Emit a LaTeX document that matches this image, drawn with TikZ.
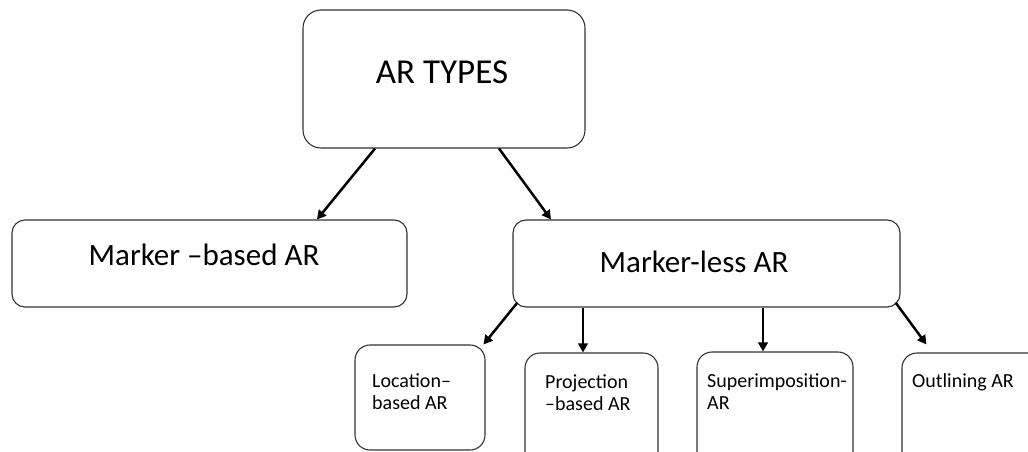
\documentclass[tikz,border=0pt]{standalone}
\usepackage{fontspec}
\setmainfont{Carlito}
\usetikzlibrary{arrows.meta}
\begin{document}
\begin{tikzpicture}[x=1pt,y=-1pt,
  box/.style={draw=black!80, line width=1.1pt, inner sep=0pt, rounded corners=#1},
  box/.default=13pt,
  arr/.style={draw=black, line width=2.5pt, -{Triangle[length=9pt,width=9.5pt]}},
  big/.style={font=\fontsize{31}{36}\selectfont, anchor=base, inner sep=0pt},
  small/.style={font=\fontsize{20}{22.5}\selectfont, align=left, anchor=base west, inner sep=0pt}]
\useasboundingbox (0,0) rectangle (1028,452);
\clip (0,0) rectangle (1028,452);
% boxes
\node[box=18pt, minimum width=282pt, minimum height=138pt] (types) at (444,79) {};
\node[box, minimum width=395pt, minimum height=87pt] (mb) at (209.5,263.5) {};
\node[box, minimum width=387pt, minimum height=87pt] (ml) at (706.5,263.5) {};
\node[box=15pt, minimum width=130pt, minimum height=105pt] (loc) at (420,397.5) {};
\node[box=15pt, minimum width=133pt, minimum height=125pt] (proj) at (591.5,415.5) {};
\node[box=15pt, minimum width=156pt, minimum height=125pt] (sup) at (775,414.5) {};
\node[box=15pt, minimum width=150pt, minimum height=125pt] (outl) at (977,415.5) {};
% texts
\node[big, font=\fontsize{35}{40}\selectfont] (ttypes) at (442,83) {AR TYPES};
\node[big] (tmb) at (204,265) {Marker –based AR};
\node[big] (tml) at (694,272) {Marker-less AR};
\node[small] (tloc) at (372,409.5) {Location–\\based AR};
\node[small] (tproj) at (545,410.5) {Projection\\–based AR};
\node[small] (tsup) at (707,409.5) {Superimposition-\\AR};
\node[small] (toutl) at (912,387) {Outlining AR};
% arrows
\draw[arr] ([xshift=-69pt]types.south) -- ([xshift=107.5pt]mb.north);
\draw[arr] ([xshift=55pt]types.south) -- ([xshift=-155.5pt]ml.north);
\draw[arr] ([shift={(5,-5)}]ml.south west) -- ([xshift=-2pt]loc.north east);
\draw[arr] ([xshift=-123.5pt]ml.south) -- ([xshift=-8.5pt]proj.north);
\draw[arr] ([xshift=56.5pt]ml.south) -- ([xshift=-12pt]sup.north);
\coordinate (oend) at ([shift={(25,-8)}]outl.north west);
\draw[arr] ([shift={(-5,-5)}]ml.south east) -- (oend);
\end{tikzpicture}
\end{document}
